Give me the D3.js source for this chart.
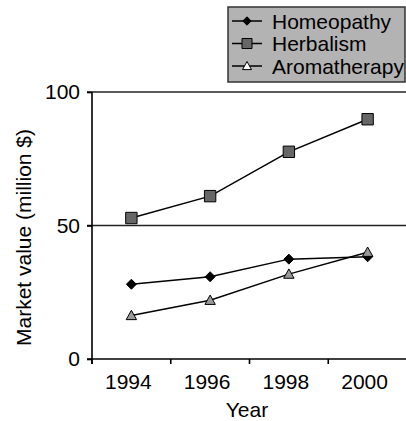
<!DOCTYPE html>
<html>
<head>
<meta charset="utf-8">
<script src="https://cdn.jsdelivr.net/npm/d3@7"></script>
<style>
  html, body { margin: 0; padding: 0; background: #fff; }
  text { font-family: "Liberation Sans", Arial, sans-serif; fill: #000; }
</style>
</head>
<body>
<div id="chart"></div>
<script>
const years = ['1994', '1996', '1998', '2000'];
const homeopathy = [28, 30.8, 37.4, 38.3];
const herbalism = [52.8, 61, 77.6, 89.8];
const aromatherapy = [16.3, 22, 31.8, 40];
const yTicks = [0, 50, 100];

const W = 406, H = 421;
const plot = { left: 92, right: 407, top: 92, bottom: 359 };
const fontSize = '21px';

const svg = d3.select('#chart').append('svg')
    .attr('width', W)
    .attr('height', H);

const x = d3.scaleBand()
    .domain(years)
    .range([plot.left, plot.right]);

const y = d3.scaleLinear()
    .domain([0, 100])
    .range([plot.bottom, plot.top]);

// custom marker shapes (Excel style)
const diamond = r => `M0,${-r}L${r},0L0,${r}L${-r},0Z`;
const square = r => `M${-r},${-r}H${r}V${r}H${-r}Z`;
const triangle = r => `M0,${-r}L${r},${r * 0.8}H${-r}Z`;

// grid lines
svg.append('g')
    .selectAll('line')
    .data(yTicks.filter(d => d > 0))
    .join('line')
    .attr('x1', plot.left - 5)
    .attr('x2', W)
    .attr('y1', d => y(d))
    .attr('y2', d => y(d))
    .attr('stroke', '#222')
    .attr('stroke-width', 1.6);

// y axis
const yAxis = svg.append('g')
    .attr('transform', `translate(${plot.left},0)`)
    .call(d3.axisLeft(y).tickValues(yTicks).tickSize(5).tickPadding(7));
yAxis.select('.domain').attr('stroke', '#000').attr('stroke-width', 1.6)
    .attr('d', `M0,${y(0) + 5}V${y(100)}`);
yAxis.selectAll('.tick line').attr('stroke', '#000').attr('stroke-width', 1.6);
yAxis.selectAll('.tick text')
    .style('font-size', fontSize)
    .style('font-family', '"Liberation Sans", Arial, sans-serif');

// x axis, ticks between categories
const xAxis = svg.append('g')
    .attr('transform', `translate(0,${y(0)})`);
xAxis.append('line')
    .attr('x1', plot.left - 5)
    .attr('x2', W)
    .attr('stroke', '#000')
    .attr('stroke-width', 1.6);
xAxis.selectAll('.tk')
    .data(years)
    .join('line')
    .attr('class', 'tk')
    .attr('x1', d => x(d))
    .attr('x2', d => x(d))
    .attr('y1', 0)
    .attr('y2', 5)
    .attr('stroke', '#000')
    .attr('stroke-width', 1.6);
xAxis.selectAll('text')
    .data(years)
    .join('text')
    .attr('x', d => x(d) + x.bandwidth() / 2 - 3)
    .attr('y', 30)
    .attr('text-anchor', 'middle')
    .style('font-size', fontSize)
    .text(d => d);

// axis titles
svg.append('text')
    .attr('x', 247)
    .attr('y', 417)
    .attr('text-anchor', 'middle')
    .style('font-size', fontSize)
    .text('Year');

svg.append('text')
    .attr('transform', `translate(31,${(y(0) + y(100)) / 2 + 12}) rotate(-90)`)
    .attr('text-anchor', 'middle')
    .style('font-size', fontSize)
    .text('Market value (million $)');

// series
const series = [
    { name: 'Homeopathy', values: homeopathy, shape: diamond, r: 5, lr: 4.2, fill: '#000', lfill: '#000' },
    { name: 'Herbalism', values: herbalism, shape: square, r: 5.7, lr: 5, fill: '#666', lfill: '#666' },
    { name: 'Aromatherapy', values: aromatherapy, shape: triangle, r: 5.2, lr: 4.5, fill: '#999', lfill: '#fff' }
];

const line = d3.line()
    .x((d, i) => x(years[i]) + x.bandwidth() / 2)
    .y(d => y(d));

series.forEach(s => {
    svg.append('path')
        .datum(s.values)
        .attr('fill', 'none')
        .attr('stroke', '#000')
        .attr('stroke-width', 1.5)
        .attr('d', line);
    svg.append('g')
        .selectAll('path')
        .data(s.values)
        .join('path')
        .attr('transform', (d, i) => `translate(${x(years[i]) + x.bandwidth() / 2},${y(d)})`)
        .attr('d', s.shape(s.r))
        .attr('fill', s.fill)
        .attr('stroke', '#000')
        .attr('stroke-width', 1);
});

// legend
const legend = svg.append('g').attr('transform', 'translate(228,7)');
legend.append('rect')
    .attr('x', 0).attr('y', 0)
    .attr('width', 177).attr('height', 75)
    .attr('fill', '#b3b3b3')
    .attr('stroke', '#333')
    .attr('stroke-width', 1.5);
series.forEach((s, i) => {
    const g = legend.append('g').attr('transform', `translate(0,${14 + i * 22.5})`);
    g.append('line')
        .attr('x1', 4).attr('x2', 34)
        .attr('stroke', '#000').attr('stroke-width', 1.5);
    g.append('path')
        .attr('transform', 'translate(19,0)')
        .attr('d', s.shape(s.lr))
        .attr('fill', s.lfill)
        .attr('stroke', '#000')
        .attr('stroke-width', 1);
    g.append('text')
        .attr('x', 44)
        .attr('y', 7.5)
        .style('font-size', fontSize)
        .text(s.name);
});
</script>
</body>
</html>
